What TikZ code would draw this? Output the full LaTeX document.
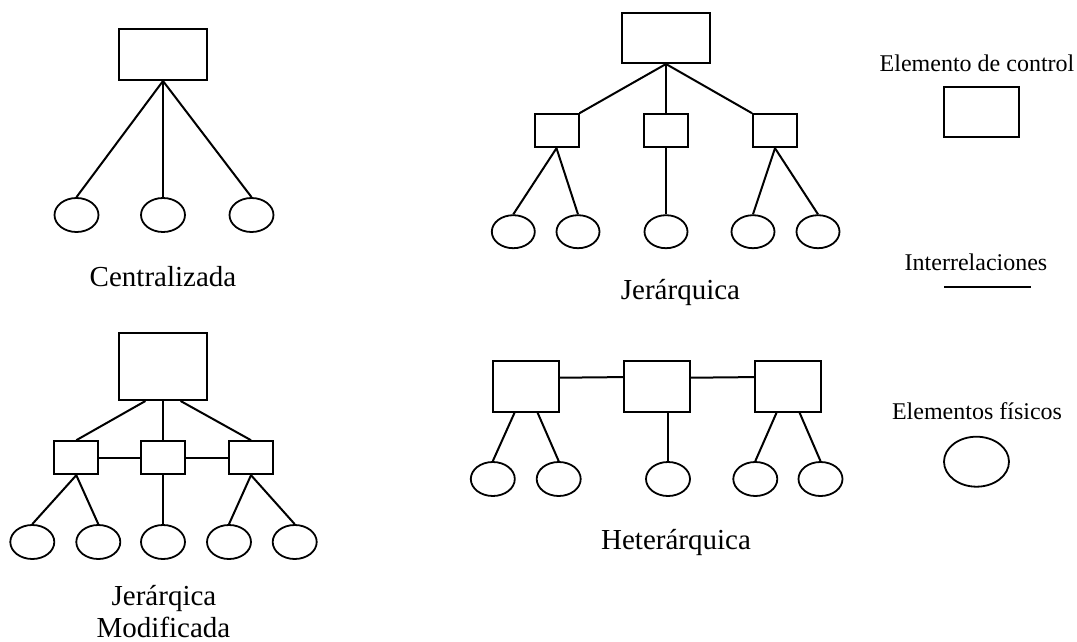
\documentclass[tikz,border=0pt]{standalone}
\usepackage{fontspec}
\setmainfont{Liberation Serif}
\usetikzlibrary{shapes.geometric}
\tikzset{
  ctrl/.style={draw, rectangle, inner sep=0pt, line width=2pt},
  phys/.style={draw, ellipse, inner sep=0pt, line width=1.8pt, minimum width=44pt, minimum height=34pt},
  link/.style={line width=2pt},
  biglbl/.style={font=\fontsize{29}{33}\selectfont, anchor=base, inner sep=0pt},
  leglbl/.style={font=\fontsize{24}{28}\selectfont, anchor=base, inner sep=0pt}
}
\begin{document}
\begin{tikzpicture}[x=1pt, y=-1pt]
\useasboundingbox (0,0) rectangle (1077,642);

% ---------- Centralizada ----------
\node[ctrl, minimum width=88pt, minimum height=51pt] (ct) at (163,54.5) {};
\node[phys] (ce1) at (76.5,215) {};
\node[phys] (ce2) at (163,215) {};
\node[phys] (ce3) at (251.5,215) {};
\draw[link] (ct.south) -- (ce1.north);
\draw[link] (ct.south) -- (ce2.north);
\draw[link] (ct.south) -- (ce3.north);
\node[biglbl] (clbl) at (163,286) {Centralizada};

% ---------- Jerarquica ----------
\node[ctrl, minimum width=88pt, minimum height=50pt] (jt) at (666,38) {};
\node[ctrl, minimum width=44pt, minimum height=33pt] (jb1) at (556.5,130.7) {};
\node[ctrl, minimum width=44pt, minimum height=33pt] (jb2) at (666,130.7) {};
\node[ctrl, minimum width=44pt, minimum height=33pt] (jb3) at (775,130.7) {};
\draw[link] (jt.south) -- (jb1.north east);
\draw[link] (jt.south) -- (jb2.north);
\draw[link] (jt.south) -- (jb3.north west);
\node[phys, minimum width=43pt, minimum height=33pt] (je1) at (513.3,231.7) {};
\node[phys, minimum width=43pt, minimum height=33pt] (je2) at (578,231.7) {};
\node[phys, minimum width=43pt, minimum height=33pt] (je3) at (666,231.7) {};
\node[phys, minimum width=43pt, minimum height=33pt] (je4) at (753,231.7) {};
\node[phys, minimum width=43pt, minimum height=33pt] (je5) at (818,231.7) {};
\draw[link] (jb1.south) -- (je1.north);
\draw[link] (jb1.south) -- (je2.north);
\draw[link] (jb2.south) -- (je3.north);
\draw[link] (jb3.south) -- (je4.north);
\draw[link] (jb3.south) -- (je5.north);
\node[biglbl] (jlbl) at (680.5,299) {Jerárquica};

% ---------- Jerarquica Modificada ----------
\node[ctrl, minimum width=88pt, minimum height=67pt] (mt) at (163,366.5) {};
\node[ctrl, minimum width=44pt, minimum height=33pt] (mb1) at (76.3,457.7) {};
\node[ctrl, minimum width=44pt, minimum height=33pt] (mb2) at (163,457.7) {};
\node[ctrl, minimum width=44pt, minimum height=33pt] (mb3) at (251,457.7) {};
\draw[link] (mt.-117) -- (mb1.north);
\draw[link] (mt.south) -- (mb2.north);
\draw[link] (mt.-63) -- (mb3.north);
\draw[link] (mb1.east) -- (mb2.west);
\draw[link] (mb2.east) -- (mb3.west);
\node[phys] (me1) at (32.3,542) {};
\node[phys] (me2) at (98.3,542) {};
\node[phys] (me3) at (163,542) {};
\node[phys] (me4) at (229,542) {};
\node[phys] (me5) at (294.7,542) {};
\draw[link] (mb1.south) -- (me1.north);
\draw[link] (mb1.south) -- (me2.north);
\draw[link] (mb2.south) -- (me3.north);
\draw[link] (mb3.south) -- (me4.north);
\draw[link] (mb3.south) -- (me5.north);
\node[biglbl] (mlbl1) at (164,605) {Jerárqica};
\node[biglbl] (mlbl2) at (163.5,637.5) {Modificada};

% ---------- Heterarquica ----------
\node[ctrl, minimum width=66pt, minimum height=51pt] (hb1) at (525.8,386.2) {};
\node[ctrl, minimum width=66pt, minimum height=51pt] (hb2) at (656.8,386.2) {};
\node[ctrl, minimum width=66pt, minimum height=51pt] (hb3) at (787.8,386.2) {};
\draw[link] (hb1.14.4) -- (hb2.165.6);
\draw[link] (hb2.14.4) -- (hb3.165.6);
\node[phys] (he1) at (492.8,479) {};
\node[phys] (he2) at (558.7,479) {};
\node[phys] (he3) at (668,479) {};
\node[phys] (he4) at (755.3,479) {};
\node[phys] (he5) at (820.5,479) {};
\draw[link] (hb1.-113) -- (he1.north);
\draw[link] (hb1.-66) -- (he2.north);
\draw[link] (he3.north |- hb2.south) -- (he3.north);
\draw[link] (hb3.-113) -- (he4.north);
\draw[link] (hb3.-66) -- (he5.north);
\node[biglbl] (hlbl) at (676,549) {Heterárquica};

% ---------- Legend ----------
\node[leglbl] (l1) at (977,71) {Elemento de control};
\node[ctrl, minimum width=75pt, minimum height=50pt] (lbox) at (981.8,112.3) {};
\node[leglbl] (l2) at (976,270) {Interrelaciones};
\coordinate (la) at (944,287);
\coordinate (lb) at (1031,287);
\draw[link] (la) -- (lb);
\node[leglbl] (l3) at (977,419.3) {Elementos físicos};
\node[phys, minimum width=65pt, minimum height=50pt] (lell) at (976.5,461.7) {};
\end{tikzpicture}
\end{document}
